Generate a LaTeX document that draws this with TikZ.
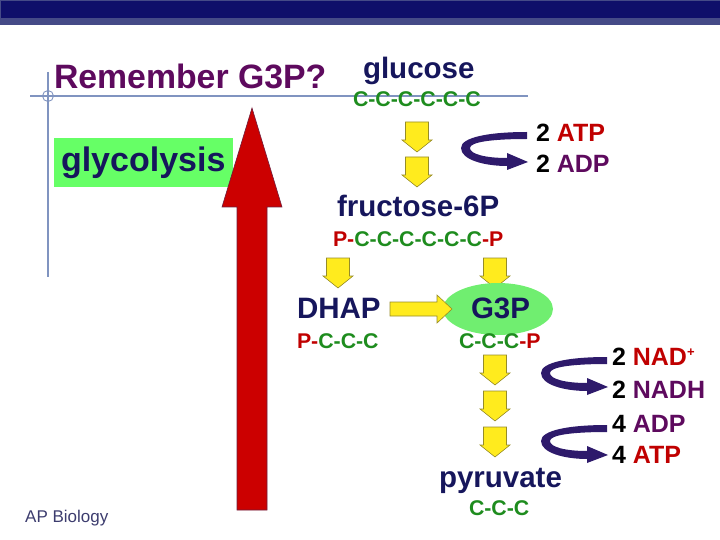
\documentclass[tikz,border=0pt]{standalone}
\usepackage{fontspec}
\setmainfont{Liberation Sans}
\definecolor{navytxt}{RGB}{22,22,92}
\definecolor{cgreen}{RGB}{30,140,30}
\definecolor{pred}{RGB}{192,0,0}
\definecolor{purp}{RGB}{94,10,94}
\definecolor{ribbon}{RGB}{46,26,107}
\definecolor{boxgreen}{RGB}{102,255,102}
\definecolor{ellgreen}{RGB}{112,238,112}
\definecolor{guide}{RGB}{128,148,192}
\definecolor{yfill}{RGB}{255,235,30}
\definecolor{yline}{RGB}{150,140,40}
\definecolor{bigred}{RGB}{204,0,0}
\definecolor{bigredline}{RGB}{110,30,60}
\definecolor{barnavy}{RGB}{15,15,106}
\definecolor{barlight}{RGB}{69,74,135}
\definecolor{apgray}{RGB}{60,60,110}
\newcommand{\myCg}{\textcolor{cgreen}}
\newcommand{\myPr}{\textcolor{pred}}
\begin{document}
\begin{tikzpicture}[x=1pt,y=-1pt,
  txt/.style={anchor=base west,inner sep=0pt,outer sep=0pt,font=\bfseries},
  big/.style={txt,font=\fontsize{29.5}{30}\selectfont\bfseries,text=navytxt},
  chain/.style={txt,font=\fontsize{21.3}{22}\selectfont\bfseries},
  side/.style={txt,font=\fontsize{25}{26}\selectfont\bfseries},
  yarrow/.style={fill=yfill,draw=yline,line width=0.6pt},
  downarrow/.pic={\path[yarrow] (3.5,0) -- (26.5,0) -- (26.5,18) -- (30,18) -- (15,30) -- (0,18) -- (3.5,18) -- cycle;},
  cyclearrow/.pic={\fill[ribbon] (0,0) .. controls (-37,0) and (-66,5) .. (-66,16)
     .. controls (-66,28) and (-42,34) .. (-20,34) -- (-20,38) -- (1,30) -- (-20,21) -- (-20,26)
     .. controls (-42,26) and (-57,22) .. (-57,16) .. controls (-57,10) and (-35,7) .. (0,7) -- cycle;}
]
\useasboundingbox (0,0) rectangle (720,540);
% top bar
\fill[barlight] (0,0) rectangle (720,25);
\fill[barnavy] (1,1) rectangle (720,18);
% guide lines
\draw[guide,line width=1.2pt] (48,72) -- (48,277);
\draw[guide,line width=1.2pt] (30,96) -- (528,96);
\draw[guide,line width=0.9pt] (48,96) circle[radius=5.5];
% title texts
\node[txt,font=\fontsize{33.8}{34}\selectfont\bfseries,text=purp] (title) at (54,89) {Remember G3P?};
% glycolysis box
\fill[boxgreen] (54,138) rectangle (233,187);
\node[txt,font=\fontsize{34}{35}\selectfont\bfseries,text=navytxt] (glyco) at (61,172) {glycolysis};
% big red arrow
\path[fill=bigred,draw=bigredline,line width=0.6pt] (237,510) -- (237,207) -- (222,207) -- (252,108) -- (282,207) -- (267,207) -- (267,510) -- cycle;
% glucose
\node[big] (glucose) at (363,79) {glucose};
\node[chain] (gluC) at (353,107) {\myCg{C-C-C-C-C-C}};
\pic at (402,122) {downarrow};
\pic at (402,157) {downarrow};
\pic at (527,132) {cyclearrow};
\node[side] (atp1) at (536,142) {2 \myPr{ATP}};
\node[side] (adp1) at (536,173) {2 \textcolor{purp}{ADP}};
% fructose
\node[big] (fru) at (337,217) {fructose-6P};
\node[chain] (fruC) at (333,247) {\myPr{P-}\myCg{C-C-C-C-C-C}\myPr{-P}};
\pic at (323,258) {downarrow};
\pic at (480,258) {downarrow};
% DHAP and G3P
\fill[ellgreen] (498,309) ellipse[x radius=55,y radius=26];
\node[big] (dhap) at (297,318) {DHAP};
\node[big] (g3p) at (471,318) {G3P};
\path[yarrow] (390,302) -- (437,302) -- (437,295) -- (452,309) -- (437,323) -- (437,316) -- (390,316) -- cycle;
\node[chain] (dhapC) at (297,348) {\myPr{P-}\myCg{C-C-C}};
\node[chain] (g3pC) at (459,348) {\myCg{C-C-C}\myPr{-P}};
% lower chain
\pic at (480,355) {downarrow};
\pic at (480,391) {downarrow};
\pic at (480,427) {downarrow};
\pic at (607,357) {cyclearrow};
\pic at (607,425) {cyclearrow};
\node[side] (nad) at (612,365) {2 \myPr{NAD\raisebox{8.5pt}{\fontsize{13}{13}\selectfont +}}};
\node[side] (nadh) at (612,398) {2 \textcolor{purp}{NADH}};
\node[side] (adp2) at (612,432) {4 \textcolor{purp}{ADP}};
\node[side] (atp2) at (612,463) {4 \myPr{ATP}};
\node[big] (pyr) at (439,487) {pyruvate};
\node[chain] (pyrC) at (469,515) {\myCg{C-C-C}};
% footer
\node[anchor=base west,inner sep=0pt,font=\fontsize{17}{17}\selectfont,text=apgray] (ap) at (25,522) {AP Biology};
\end{tikzpicture}
\end{document}
